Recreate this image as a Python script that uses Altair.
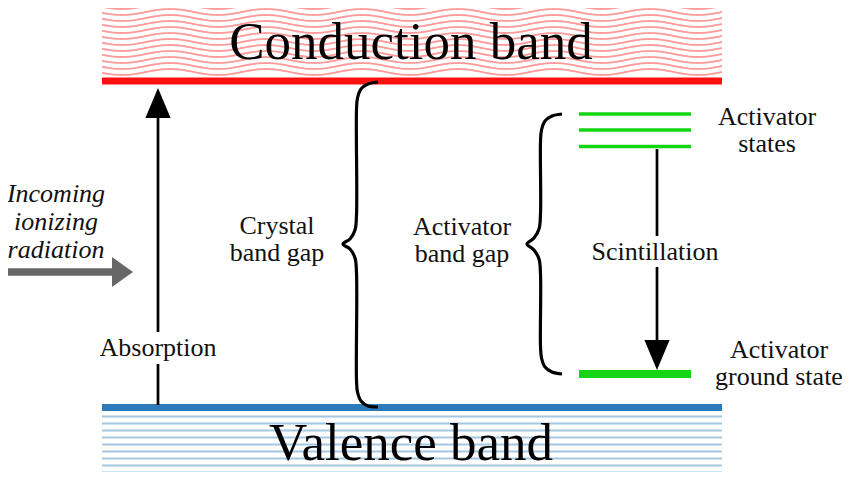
import altair as alt
import numpy as np
import pandas as pd

# ---------------- data (diagram coordinates, px of an 850x480 canvas) -------------
band_x = [102, 722]
wave_rows = [6, 12, 18, 24, 30, 36, 42, 48, 54, 60, 66, 72]
wave_len = 96
wave_amp = 3
wave_crest_x = 170
valence_rows = [416.5, 423.5, 430.5, 437.5, 444.5, 451.5, 458.5, 465.5, 472.5, 479]
conduction_edge_y = 81
valence_edge_y = 407.5
activator_state_y = [114, 130, 146.5]
activator_ground_y = 374
activator_x = [579, 691]

# horizontal segments: x, x2, y, width, colour
h_x = [102] * 10 + [102, 102, 579, 579, 579, 579, 5]
h_x2 = [722] * 10 + [722, 722, 691, 691, 691, 691, 114]
h_y = valence_rows + [conduction_edge_y, valence_edge_y] + activator_state_y + [activator_ground_y, 272]
h_w = [2] * 10 + [7, 7, 3.3, 3.3, 3.3, 8, 7.5]
h_c = ["#a4c7e2"] * 10 + ["#ff1010", "#2b7bba", "#14d414", "#14d414", "#14d414", "#14d414", "#676767"]

# vertical arrow shafts (split around their labels)
v_x = [158, 158, 657, 657]
v_y = [116, 364, 149, 267]
v_y2 = [332, 405, 236, 342]

# arrow heads
head_x = [158, 657, 122.5]
head_y = [103, 355, 272]
head_shape = [
    "M-0.84,1L0,-1L0.84,1Z",
    "M-0.84,-1L0,1L0.84,-1Z",
    "M-0.7,-1L0.7,0L-0.7,1Z",
]
head_color = ["black", "black", "#676767"]

# braces
brace1_x = [378, 368, 361, 357.5, 356.5, 356.5, 355, 350, 343, 350, 355, 356.5, 356.5, 357.5, 361, 368, 378]
brace1_y = [82, 84, 89, 98, 110, 215, 230, 239, 244, 249, 258, 273, 380, 392, 401, 406, 407]
brace2_x = [562, 552, 545, 541.5, 540.5, 540.5, 539, 534, 527, 534, 539, 540.5, 540.5, 541.5, 545, 552, 562]
brace2_y = [114, 116, 121, 130, 142, 214, 229, 238, 244, 250, 259, 274, 346, 358, 367, 372, 374]

# labels
big_text = ["Conduction band", "Valence band"]
big_x = [411, 411]
big_y = [59, 460]

small_text = ["Absorption", "Crystal", "band gap", "Activator", "band gap", "Scintillation",
              "Activator", "states", "Activator", "ground state"]
small_x = [158, 277, 277, 462, 462, 655, 767, 767, 779, 779]
small_y = [356, 234, 261, 235, 262, 260, 125, 152, 358, 385]

italic_text = ["Incoming", "ionizing", "radiation"]
italic_x = [56, 56, 56]
italic_y = [202, 230, 258]

# ---------------- build tables -------------
wx = np.arange(band_x[0], band_x[1] + 1, 2)
wave_df = pd.concat([
    pd.DataFrame({
        "x": wx,
        "y": yc - wave_amp * np.cos(2 * np.pi * (wx - wave_crest_x) / wave_len),
        "id": k,
        "i": np.arange(len(wx)),
    }) for k, yc in enumerate(wave_rows)
])
h_df = pd.DataFrame({"x": h_x, "x2": h_x2, "y": h_y, "w": h_w, "c": h_c})
v_df = pd.DataFrame({"x": v_x, "y": v_y, "y2": v_y2})
head_df = pd.DataFrame({"x": head_x, "y": head_y, "s": head_shape, "c": head_color})
brace_df = pd.concat([
    pd.DataFrame({"x": brace1_x, "y": brace1_y, "id": 1, "i": range(len(brace1_x))}),
    pd.DataFrame({"x": brace2_x, "y": brace2_y, "id": 2, "i": range(len(brace2_x))}),
])
big_df = pd.DataFrame({"x": big_x, "y": big_y, "t": big_text})
small_df = pd.DataFrame({"x": small_x, "y": small_y, "t": small_text})
italic_df = pd.DataFrame({"x": italic_x, "y": italic_y, "t": italic_text})

X = alt.X("x:Q", scale=alt.Scale(domain=[8, 842], nice=False, zero=False), axis=None)
Y = alt.Y("y:Q", scale=alt.Scale(domain=[8, 472], nice=False, zero=False, reverse=True), axis=None)

waves = alt.Chart(wave_df).mark_line(color="#ff9a9a", strokeWidth=1.8).encode(
    x=X, y=Y, detail="id:N", order="i:Q")
hlines = alt.Chart(h_df).mark_rule(strokeCap="butt").encode(
    x=X, x2="x2:Q", y=Y,
    size=alt.Size("w:Q", scale=None),
    color=alt.Color("c:N", scale=None))
vlines = alt.Chart(v_df).mark_rule(strokeCap="butt", strokeWidth=2.7, color="black").encode(
    x=X, y=Y, y2="y2:Q")
heads = alt.Chart(head_df).mark_point(filled=True, size=900, opacity=1, strokeWidth=0).encode(
    x=X, y=Y,
    shape=alt.Shape("s:N", scale=None),
    color=alt.Color("c:N", scale=None))
braces = alt.Chart(brace_df).mark_line(color="black", strokeWidth=3.2, interpolate="catmull-rom").encode(
    x=X, y=Y, detail="id:N", order="i:Q")
big = alt.Chart(big_df).mark_text(font="Liberation Serif", fontSize=53, baseline="alphabetic",
                                  align="center", color="black").encode(x=X, y=Y, text="t:N")
small = alt.Chart(small_df).mark_text(font="Liberation Serif", fontSize=26, baseline="alphabetic",
                                      align="center", color="#111111").encode(x=X, y=Y, text="t:N")
italic = alt.Chart(italic_df).mark_text(font="Liberation Serif", fontSize=26, fontStyle="italic",
                                        baseline="alphabetic", align="center",
                                        color="#111111").encode(x=X, y=Y, text="t:N")

chart = alt.layer(waves, hlines, vlines, heads, braces, big, small, italic).properties(
    width=834, height=464, padding=0,
    autosize=alt.AutoSizeParams(type="none"),
    background="white",
).configure_view(strokeWidth=0)

chart.save("out.html", embed_options={"renderer": "svg", "actions": False})
